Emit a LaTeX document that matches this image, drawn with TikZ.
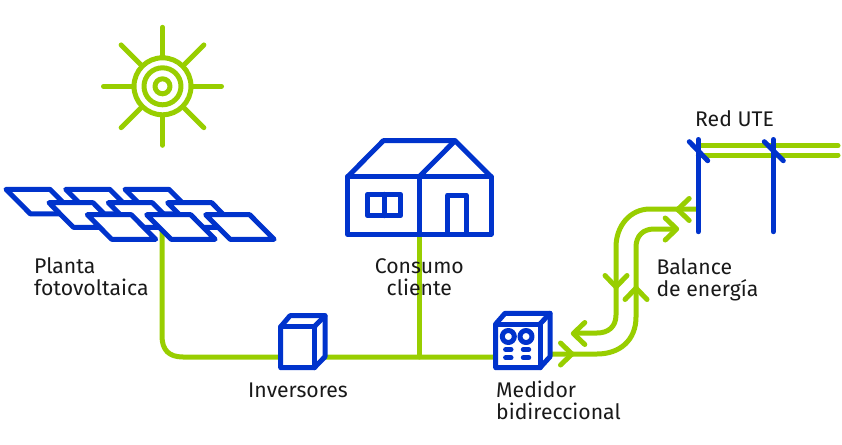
\documentclass[tikz,border=0pt]{standalone}
\usepackage{fontspec}
\setmainfont{Fira Sans}
\definecolor{solgreen}{HTML}{98CE00}
\definecolor{iconblue}{HTML}{0033CC}
\tikzset{
  greenline/.style={solgreen, line width=5pt, line cap=round, line join=round},
  blueline/.style={iconblue, line width=5pt, line cap=round, line join=round},
  lbl/.style={text=black!90, font=\fontsize{21.2}{22}\selectfont, inner sep=0pt, align=left}
}
\begin{document}
\begin{tikzpicture}[x=1pt,y=-1pt]
  \useasboundingbox (0,0) rectangle (842,444);
  \coordinate (Sun) at (162.5,86.3);
  \coordinate (Panel) at (162,229);
  \coordinate (Tee) at (419.3,357);
  \coordinate (House) at (419.3,234);
  \coordinate (Med) at (518,357);
  \coordinate (PoleA) at (698.3,209);
  % green lines go first, the icons cover them
  \draw[greenline] (Panel) -- (162,336) .. controls (162,350) and (169,357) .. (183,357) -- (Med);
  \draw[greenline] (House) -- (Tee);
  \draw[greenline] (540,354) -- (597,354)
    .. controls (620,354) and (636,340) .. (636,317) -- (636,247)
    .. controls (636,236) and (643,229) .. (654,229) -- (675,229);
  \draw[greenline] (PoleA) -- (650,209)
    .. controls (630,209) and (616,226) .. (616,247) -- (616,315)
    .. controls (616,327) and (608,333) .. (597,333) -- (575,333);
  \draw[greenline] (698.3,145.7) -- (838,145.7);
  \draw[greenline] (698.3,155) -- (838,155);
  % chevrons
  \foreach \x/\y/\a in {572/354/0,676.7/229/0,677.7/209.5/180,616/287/-90,636/288/90,573.3/333.5/180}{
    \draw[greenline,shift={(\x,\y)},rotate=\a] (-11.5,-11) -- (0,0) -- (-11.5,11);
  }
  % sun
  \foreach \r in {28.5,18.5,7.5}{
    \draw[greenline] (Sun) circle (\r);
  }
  \foreach \a in {0,90,180,270}{
    \draw[greenline] (Sun) ++(\a:31) -- ++(\a:28);
  }
  \foreach \a in {45,135,225,315}{
    \draw[greenline] (Sun) ++(\a:31) -- ++(\a:27.5);
  }
  % panels, back row to front row
  \foreach \x/\y in {6/189.3,65.7/189.3,125/189.3,49/202.7,108.3/202.7,167.7/202.7,87.3/214.7,146.7/214.7,205.7/214.7}{
    \draw[blueline,fill=white] (\x,\y) -- ++(44,0) -- ++(24.4,24.6) -- ++(-44,0) -- cycle;
  }
  % house
  \draw[blueline,fill=white] (347.7,176.7) rectangle (491,234.3);
  \draw[blueline] (347.7,176.7) -- (383.3,140.7) -- (455,140.7) -- (491,176.7);
  \draw[blueline] (419.3,176.7) -- (455,140.7);
  \draw[blueline] (House) -- (419.3,176.7);
  \draw[blueline] (367.3,194.3) rectangle (400.7,215.7);
  \draw[blueline] (384,194.3) -- (384,215.7);
  \draw[blueline] (447.7,234.3) -- (447.7,195) -- (466,195) -- (466,234.3);
  % inverter
  \draw[blueline,fill=white] (280.7,326.7) -- (290,315.7) -- (325,315.7) -- (325,356.7) -- (314.3,367.7) -- (280.7,367.7) -- cycle;
  \draw[blueline] (280.7,326.7) -- (314.3,326.7) -- (314.3,367.7);
  \draw[blueline] (314.3,326.7) -- (325,315.7);
  % meter
  \draw[blueline,fill=white] (495.7,324) -- (505,313.3) -- (550,313.3) -- (550,356.7) -- (540,367.7) -- (495.7,367.7) -- cycle;
  \draw[blueline] (495.7,324) -- (540,324) -- (540,367.7);
  \draw[blueline] (540,324) -- (550,313.3);
  \foreach \x in {508.3,526}{
    \draw[blueline] (\x,336.5) circle (6);
    \draw[blueline] (\x-2.7,349.5) -- (\x+2.7,349.5);
    \draw[blueline] (\x-2.7,357.7) -- (\x+2.7,357.7);
  }
  % poles
  \draw[blueline] (698.3,139.5) -- (698.3,231.7);
  \draw[blueline] (689.3,141.7) -- (707.7,160.7);
  \draw[blueline] (773.3,139.5) -- (773.3,231.7);
  \draw[blueline] (764.3,141.7) -- (783.3,160.7);
  % labels
  \node[lbl,anchor=base west] (lblPlanta) at (34,295.5) {Planta\\fotovoltaica};
  \node[lbl,anchor=base,align=center] (lblConsumo) at (419.3,295.5) {Consumo\\cliente};
  \node[lbl,anchor=base west] (lblInv) at (248,397.5) {Inversores};
  \node[lbl,anchor=base west] (lblMed) at (496,419.5) {Medidor\\bidireccional};
  \node[lbl,anchor=base west] (lblRed) at (695,126.7) {Red UTE};
  \node[lbl,anchor=base west] (lblBal) at (656.3,296) {Balance\\de energía};
\end{tikzpicture}
\end{document}
